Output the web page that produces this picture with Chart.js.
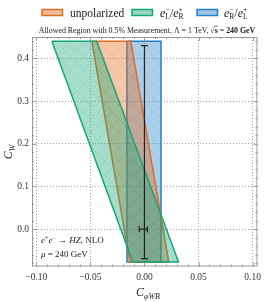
<!DOCTYPE html>
<html>
<head>
<meta charset="utf-8">
<script src="https://cdn.jsdelivr.net/npm/chart.js@4.4.0/dist/chart.umd.min.js"></script>
<style>
  html, body { margin: 0; padding: 0; background: #fff; }
  #wrap { width: 266px; height: 301px; }
</style>
</head>
<body>
<div id="wrap"><canvas id="c"></canvas></div>
<script>
// Allowed regions (corners, clockwise from top-left)
const unpolX = [-0.0486, -0.0126, 0.0225, -0.0135];
const unpolY = [0.44, 0.44, -0.077, -0.077];
const eLeRX = [-0.0856, -0.0441, 0.0315, -0.0108];
const eLeRY = [0.44, 0.44, -0.077, -0.077];
const eReLX = [-0.0162, 0.0153, 0.0153, -0.0162];
const eReLY = [0.44, 0.44, -0.077, -0.077];

// Central point and its error bars
const centerX = 0.0;
const centerY = 0.0;
const errYRange = [-0.069, 0.430];
const errXRange = [-0.0048, 0.0027];

const xTicks = [-0.10, -0.05, 0.00, 0.05, 0.10];
const yTicks = [0.0, 0.1, 0.2, 0.3, 0.4];

const SERIF = '"Liberation Serif", "DejaVu Serif", serif';

// Fill pattern with faint cross hatch
function hatch(rgb, a) {
    const c = document.createElement('canvas');
    c.width = c.height = 14;
    const g = c.getContext('2d');
    g.fillStyle = `rgba(${rgb},${a})`;
    g.fillRect(0, 0, 14, 14);
    g.strokeStyle = `rgba(${rgb},0.18)`;
    g.lineWidth = 0.6;
    g.beginPath();
    g.moveTo(0, 0); g.lineTo(14, 14);
    g.moveTo(14, 0); g.lineTo(0, 14);
    g.stroke();
    return g.createPattern(c, 'repeat');
}

function polygon(xs, ys) {
    const pts = xs.map((x, i) => ({ x: x, y: ys[i] }));
    pts.push(pts[0]);
    return pts;
}

const ORANGE = '226,108,30';
const GREEN = '22,166,120';
const BLUE = '38,128,198';

const regions = [
    { key: 'eLeR', data: polygon(eLeRX, eLeRY), rgb: GREEN },
    { key: 'unpol', data: polygon(unpolX, unpolY), rgb: ORANGE },
    { key: 'eReL', data: polygon(eReLX, eReLY), rgb: BLUE }
];

const datasets = [
    {
        // vertical error bar (caps drawn as line points)
        data: [{ x: centerX, y: errYRange[0] }, { x: centerX, y: errYRange[1] }],
        showLine: true, borderColor: '#222', borderWidth: 1.2,
        pointStyle: 'line', pointRadius: 3.5, pointBorderWidth: 1.2,
        pointBorderColor: '#222', fill: false
    },
    {
        data: [{ x: errXRange[0], y: centerY }, { x: errXRange[1], y: centerY }],
        showLine: true, borderColor: '#222', borderWidth: 1.2,
        pointStyle: 'line', pointRotation: 90, pointRadius: 3, pointBorderWidth: 1.2,
        pointBorderColor: '#222', fill: false
    }
].concat(regions.map(r => ({
    data: r.data,
    showLine: true,
    tension: 0,
    fill: 'shape',
    backgroundColor: hatch(r.rgb, 0.38),
    borderColor: `rgb(${r.rgb})`,
    borderWidth: 1.5,
    pointRadius: 0
})));

// Rich text: segments [text, font, dy, noAdvance]
function drawRich(ctx, segs, x, y, align) {
    let w = 0;
    segs.forEach(s => { if (!s[3]) { ctx.font = s[1]; w += ctx.measureText(s[0]).width; } });
    let cx = align === 'center' ? x - w / 2 : x;
    segs.forEach(s => {
        ctx.font = s[1];
        ctx.fillText(s[0], cx, y + (s[2] || 0));
        if (!s[3]) cx += ctx.measureText(s[0]).width;
    });
    return w;
}

const decorPlugin = {
    id: 'decor',
    afterDraw(chart) {
        const ctx = chart.ctx;
        const a = chart.chartArea;
        const xs = chart.scales.x, ys = chart.scales.y;
        ctx.save();

        // frame
        ctx.strokeStyle = '#9a9a9a';
        ctx.lineWidth = 1;
        ctx.strokeRect(a.left + 0.5, a.top + 0.5, a.right - a.left - 1, a.bottom - a.top - 1);

        // inward ticks
        ctx.strokeStyle = '#8a8a8a';
        ctx.lineWidth = 0.8;
        ctx.beginPath();
        for (let i = -10; i <= 10; i++) {
            const v = i / 100;
            const px = Math.round(xs.getPixelForValue(v)) + 0.5;
            const len = i % 5 === 0 ? 4 : 2;
            ctx.moveTo(px, a.bottom); ctx.lineTo(px, a.bottom - len);
            ctx.moveTo(px, a.top); ctx.lineTo(px, a.top + len);
        }
        for (let i = -4; i <= 22; i++) {
            const v = i / 50;
            if (v < ys.min || v > ys.max) continue;
            const py = Math.round(ys.getPixelForValue(v)) + 0.5;
            const len = i % 5 === 0 ? 4 : 2;
            ctx.moveTo(a.left, py); ctx.lineTo(a.left + len, py);
            ctx.moveTo(a.right, py); ctx.lineTo(a.right - len, py);
        }
        ctx.stroke();

        ctx.fillStyle = '#222';
        ctx.textBaseline = 'alphabetic';
        ctx.textAlign = 'left';

        // legend
        const legend = [
            { rgb: ORANGE, box: 42, text: 70, segs: [['unpolarized', `11.5px ${SERIF}`]] },
            { rgb: GREEN, box: 132, text: 160, segs: [
                ['e', `italic 12px ${SERIF}`], ['\u2212', `7.5px ${SERIF}`, -5, true], ['L', `7.5px ${SERIF}`, 2.5],
                ['/', `12px ${SERIF}`],
                ['e', `italic 12px ${SERIF}`], ['+', `7.5px ${SERIF}`, -5, true], ['R', `7.5px ${SERIF}`, 2.5]
            ] },
            { rgb: BLUE, box: 197, text: 224, segs: [
                ['e', `italic 12px ${SERIF}`], ['\u2212', `7.5px ${SERIF}`, -5, true], ['R', `7.5px ${SERIF}`, 2.5],
                ['/', `12px ${SERIF}`],
                ['e', `italic 12px ${SERIF}`], ['+', `7.5px ${SERIF}`, -5, true], ['L', `7.5px ${SERIF}`, 2.5]
            ] }
        ];
        legend.forEach(l => {
            ctx.fillStyle = `rgba(${l.rgb},0.45)`;
            ctx.fillRect(l.box, 9.5, 20.5, 6);
            ctx.strokeStyle = `rgb(${l.rgb})`;
            ctx.lineWidth = 1.5;
            ctx.strokeRect(l.box, 9.5, 20.5, 6);
            ctx.fillStyle = '#222';
            drawRich(ctx, l.segs, l.text, 16.5, 'left');
        });

        // title
        const t1 = 'Allowed Region with 0.5% Measurement, \u039B = 1 TeV, ';
        const t2 = '\u221As = 240 GeV';
        const tf = 7.9;
        ctx.font = `${tf}px ${SERIF}`;
        const w1 = ctx.measureText(t1).width;
        ctx.font = `bold ${tf}px ${SERIF}`;
        const w2 = ctx.measureText(t2).width;
        const tx = 147 - (w1 + w2) / 2;
        ctx.font = `${tf}px ${SERIF}`;
        ctx.fillText(t1, tx, 33);
        ctx.font = `bold ${tf}px ${SERIF}`;
        ctx.fillText(t2, tx + w1, 33);
        const sw = ctx.measureText('\u221A').width;
        const ssw = ctx.measureText('s').width;
        ctx.strokeStyle = '#222';
        ctx.lineWidth = 0.6;
        ctx.beginPath();
        ctx.moveTo(tx + w1 + sw - 0.5, 26.3);
        ctx.lineTo(tx + w1 + sw + ssw + 0.3, 26.3);
        ctx.stroke();

        // process annotation
        drawRich(ctx, [
            ['e', `italic 9px ${SERIF}`], ['+', `6px ${SERIF}`, -3.5],
            ['e', `italic 9px ${SERIF}`], ['\u2212', `6px ${SERIF}`, -3.5],
            [' \u2192 ', `9px ${SERIF}`], ['HZ', `italic 9px ${SERIF}`],
            [', NLO', `9px ${SERIF}`]
        ], 41, 243, 'left');
        drawRich(ctx, [
            ['\u03BC', `italic 9px ${SERIF}`], [' = 240 GeV', `9px ${SERIF}`]
        ], 41, 257, 'left');

        // axis titles
        drawRich(ctx, [
            ['C', `italic 12px ${SERIF}`], ['\u03C6WB', `italic 8px ${SERIF}`, 2.5]
        ], 148, 296, 'center');
        ctx.save();
        ctx.translate(12, 152);
        ctx.rotate(-Math.PI / 2);
        drawRich(ctx, [
            ['C', `italic 12px ${SERIF}`], ['W', `italic 8px ${SERIF}`, 2.5]
        ], 0, 0, 'center');
        ctx.restore();

        ctx.restore();
    }
};

function fmt(v, d) {
    const s = Math.abs(v).toFixed(d);
    return (v < -1e-9 ? '\u2212' : '') + s;
}

new Chart(document.getElementById('c'), {
    type: 'scatter',
    data: { datasets: datasets },
    options: {
        responsive: true,
        maintainAspectRatio: false,
        animation: false,
        layout: { padding: { top: 37, right: 3, left: 0, bottom: 0 } },
        plugins: {
            legend: { display: false },
            title: { display: false },
            tooltip: { enabled: false }
        },
        scales: {
            x: {
                type: 'linear',
                min: -0.104,
                max: 0.1045,
                afterBuildTicks: s => { s.ticks = xTicks.map(v => ({ value: v })); },
                afterFit: s => { s.height = 34.5; },
                ticks: {
                    callback: v => fmt(v, 2),
                    font: { family: SERIF, size: 9.5 },
                    color: '#333',
                    padding: 5,
                    maxRotation: 0
                },
                grid: { color: '#8c8c8c', lineWidth: 0.8, drawTicks: false },
                border: { display: false, dash: [1, 2] }
            },
            y: {
                type: 'linear',
                min: -0.0875,
                max: 0.45,
                afterBuildTicks: s => { s.ticks = yTicks.map(v => ({ value: v })); },
                afterFit: s => { s.width = 32; },
                ticks: {
                    callback: v => fmt(v, 1),
                    font: { family: SERIF, size: 9.5 },
                    color: '#333',
                    padding: 3
                },
                grid: { color: '#8c8c8c', lineWidth: 0.8, drawTicks: false },
                border: { display: false, dash: [1, 2] }
            }
        }
    },
    plugins: [decorPlugin]
});
</script>
</body>
</html>
